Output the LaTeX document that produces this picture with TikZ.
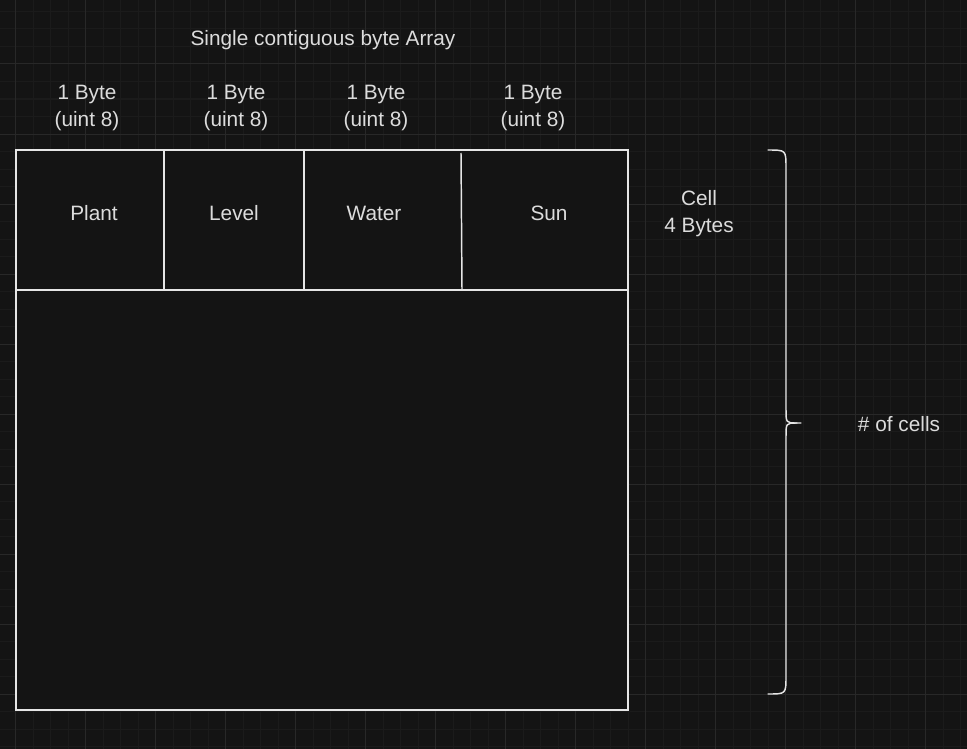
\documentclass[tikz,border=0pt]{standalone}
\usepackage{fontspec}
\setmainfont{Liberation Sans}
\usepackage{tikz}

\definecolor{canvas}{HTML}{141414}
\definecolor{minorline}{HTML}{1B1B1B}
\definecolor{majorline}{HTML}{282828}
\definecolor{edgewhite}{HTML}{E6E6E6}
\definecolor{inkgray}{HTML}{DCDCDC}

\begin{document}
\begin{tikzpicture}[x=0.75pt,y=-0.75pt,
    minorgrid/.style={draw=minorline,line width=0.75pt},
    majorgrid/.style={draw=majorline,line width=0.75pt},
    memblock/.style={draw=edgewhite,fill=canvas,line width=1.1pt},
    divider/.style={draw=edgewhite,line width=1.1pt},
    caption/.style={text=inkgray,font=\fontsize{15.6}{20.25}\selectfont,align=center,inner sep=0pt},
    bracket/.style={draw=edgewhite,line width=1.1pt,line cap=round}]
        % canvas and grid
        \fill[canvas] (0,0) rectangle (967,749);
        \useasboundingbox (0,0) rectangle (967,749);
        \foreach \i in {0,...,56} \draw[minorgrid] ({-2+17.5*\i},0) -- ({-2+17.5*\i},749);
        \foreach \j in {0,...,43} \draw[minorgrid] (0,{-6+17.5*\j}) -- (967,{-6+17.5*\j});
        \foreach \i in {0,...,13} \draw[majorgrid] ({15.5+70*\i},0) -- ({15.5+70*\i},749);
        \foreach \j in {1,...,11} \draw[majorgrid] (0,{-6+70*\j}) -- (967,{-6+70*\j});

        % the array
        \draw[memblock] (16,290) rectangle (628,710);
        \draw[memblock] (16,150) rectangle (628,290);
        \coordinate (d1t) at (164,150);   \coordinate (d1b) at (164,290);
        \coordinate (d2t) at (304,150);   \coordinate (d2b) at (304,290);
        \coordinate (d3t) at (461,153);   \coordinate (d3b) at (462,290);
        \draw[divider] (d1t) -- (d1b);
        \draw[divider] (d2t) -- (d2b);
        \draw[divider] (d3t) -- (d3b);

        % labels
        \node[caption] (title) at (323,40) {Single contiguous byte Array};
        \node[caption] (bplant) at (87,108) {1 Byte\\(uint 8)};
        \node[caption] (blevel) at (236,108) {1 Byte\\(uint 8)};
        \node[caption] (bwater) at (376,108) {1 Byte\\(uint 8)};
        \node[caption] (bsun) at (533,108) {1 Byte\\(uint 8)};
        \node[caption] (plant) at (94,213) {Plant};
        \node[caption] (level) at (234,213) {Level};
        \node[caption] (water) at (374,213) {Water};
        \node[caption] (sun) at (549,213) {Sun};
        \node[caption] (cell) at (699,214) {Cell\\4 Bytes};
        \node[caption] (count) at (899,424) {\# of cells};

        % curly bracket
        \coordinate (btop) at (768,150);
        \coordinate (bbot) at (768,694);
        \coordinate (btip) at (801,423);
        \draw[bracket] (btop) .. controls (786,150) .. (786,168) -- (786,409)
            .. controls (786,423) .. (797,423) -- (btip);
        \draw[bracket] (797,423) .. controls (786,423) .. (786,437) -- (786,676)
            .. controls (786,694) .. (bbot);
\end{tikzpicture}
\end{document}
